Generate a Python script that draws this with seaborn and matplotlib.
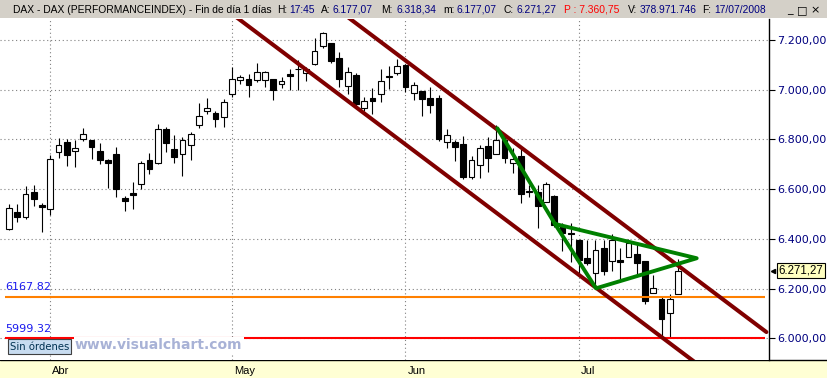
import numpy as np
import pandas as pd
import matplotlib
matplotlib.use("Agg")
import matplotlib.pyplot as plt
import matplotlib.transforms as mtrans
from matplotlib.patches import Rectangle
from matplotlib.lines import Line2D
import seaborn as sns

# ---------------- data ----------------
dates = pd.bdate_range("2008-03-25", "2008-07-17")
dates = dates[dates != pd.Timestamp("2008-05-01")]

opens = [6441, 6507, 6487, 6587, 6535, 6519, 6748, 6788, 6752, 6801,
         6797, 6752, 6716, 6741, 6563, 6583, 6622, 6716, 6704, 6841,
         6760, 6740, 6776, 6857, 6913, 6905, 6889, 6983, 7038, 7042,
         7039, 7038, 7042, 7022, 7063, 7084, 7068, 7102, 7175, 7187,
         7126, 7013, 7059, 6925, 6966, 6981, 7055, 7066, 7099, 6986,
         6995, 6966, 6967, 6788, 6789, 6781, 6647, 6698, 6772, 6743,
         6798, 6704, 6733, 6593, 6587, 6550, 6571, 6452, 6422, 6395,
         6322, 6261, 6362, 6312, 6315, 6328, 6339, 6311, 6183, 6158,
         6100, 6177.07]
highs = [6540, 6540, 6613, 6617, 6543, 6736, 6805, 6801, 6798, 6845,
         6798, 6784, 6720, 6768, 6572, 6629, 6713, 6744, 6862, 6850,
         6818, 6811, 6830, 6945, 6966, 6914, 6961, 7090, 7058, 7063,
         7106, 7077, 7043, 7050, 7082, 7120, 7093, 7207, 7232, 7188,
         7153, 7091, 7067, 6969, 7006, 7083, 7096, 7122, 7103, 7032,
         6996, 7010, 6978, 6842, 6798, 6814, 6733, 6778, 6811, 6858,
         6809, 6764, 6764, 6617, 6617, 6630, 6578, 6464, 6465, 6396,
         6395, 6395, 6395, 6418, 6362, 6398, 6389, 6312, 6255, 6167.82,
         6178, 6318.34]
lows = [6437, 6469, 6479, 6532, 6429, 6496, 6727, 6694, 6690, 6795,
        6723, 6702, 6606, 6570, 6513, 6521, 6599, 6662, 6702, 6748,
        6704, 6653, 6717, 6847, 6904, 6851, 6850, 6970, 7022, 6970,
        7032, 7012, 6959, 7006, 6999, 6999, 7036, 7100, 7167, 7106,
        7012, 6981, 6926, 6916, 6902, 6952, 7004, 7061, 6990, 6960,
        6896, 6905, 6795, 6764, 6714, 6639, 6641, 6646, 6670, 6740,
        6704, 6664, 6546, 6570, 6443, 6548, 6448, 6350, 6308, 6261,
        6295, 6201, 6255, 6272, 6225, 6327, 6251, 6138, 6182, 6006,
        5999.32, 6177.07]
closes = [6523, 6489, 6579, 6559, 6529, 6720, 6776, 6739, 6764, 6821,
          6771, 6718, 6704, 6602, 6554, 6578, 6704, 6680, 6841, 6784,
          6728, 6797, 6821, 6896, 6925, 6883, 6949, 7042, 7050, 7018,
          7073, 7070, 7000, 7034, 7056, 7082, 7082, 7155, 7227, 7117,
          7042, 7070, 6943, 6954, 6956, 7034, 7053, 7095, 7010, 7017,
          6964, 6940, 6802, 6817, 6771, 6650, 6716, 6764, 6727, 6798,
          6727, 6720, 6579, 6589, 6533, 6621, 6456, 6422, 6418, 6315,
          6304, 6355, 6272, 6395, 6306, 6385, 6304, 6151, 6201, 6078,
          6158, 6271.27]

month_labels = ["Abr", "May", "Jun", "Jul"]
y_ticks = [6000, 6200, 6400, 6600, 6800, 7000, 7200]

support_levels = [6167.82, 5999.32]
support_labels = ["6167.82", "5999.32"]
support_colors = ["#ff8000", "#ff0000"]

channel_upper_idx = [38.3, 91.7]
channel_upper_val = [7360, 6025]
channel_lower_idx = [24.6, 85.0]
channel_lower_val = [7365, 5855]
triangle_idx = [59.12, 66.1, 71.07, 83.26, 66.1]
triangle_val = [6845, 6460, 6201, 6322, 6460]

last_price = 6271.27

header_parts = [
    ("DAX - DAX (PERFORMANCEINDEX) - Fin de día 1 días", 13, "black"),
    ("H:", 277, "black"), ("17:45", 289, "#000080"),
    ("A:", 321, "black"), ("6.177,07", 333, "#000080"),
    ("M:", 381, "black"), ("6.318,34", 397, "#000080"),
    ("m:", 443, "black"), ("6.177,07", 457, "#000080"),
    ("C:", 504, "black"), ("6.271,27", 517, "#000080"),
    ("P : 7.360,75", 564, "#ff0000"),
    ("V:", 628, "black"), ("378.971.746", 640, "#000080"),
    ("F:", 702, "black"), ("17/07/2008", 714, "#000080"),
]

# ---------------- figure ----------------
sns.set_style("white")
plt.rcParams["font.family"] = ["DejaVu Sans"]

W, H = 828, 378
fig = plt.figure(figsize=(W / 100, H / 100), dpi=100)
fig.patch.set_facecolor("white")

def fy(py):
    return 1 - py / H

# header strip and bottom strip (below the axes in drawing order)
fig.patches.append(Rectangle((0, fy(18)), 1, 18 / H, transform=fig.transFigure,
                             facecolor="#d4d0c8", edgecolor="none", zorder=-2))
fig.patches.append(Rectangle((0, 0), 1, 18 / H, transform=fig.transFigure,
                             facecolor="#ffffd4", edgecolor="none", zorder=-2))
fig.lines.append(Line2D([0, 1], [fy(360), fy(360)], transform=fig.transFigure,
                        color="black", lw=1.0, zorder=-1))

for txt, px, col in header_parts:
    fig.text(px / W, fy(10), txt, color=col, fontsize=7.4,
             family=["Liberation Sans", "DejaVu Sans"], ha="left", va="center")
for txt, px in [("_", 790), ("□", 802), ("×", 815)]:
    fig.text(px / W, fy(10), txt, color="black", fontsize=8, ha="center", va="center")

ax = fig.add_axes([0, fy(360), 769.3 / W, (360 - 19) / H])
ax.set_facecolor("white")

df = pd.DataFrame({"date": dates, "open": opens, "high": highs,
                   "low": lows, "close": closes})
df["x"] = np.arange(len(df))
up = df["close"] >= df["open"]

ax.vlines(df["x"], df["low"], df["high"], color="black", lw=0.8, zorder=2)
ax.bar(df["x"], df["close"] - df["open"], bottom=df["open"], width=0.7,
       color=np.where(up, "white", "black"), edgecolor="black",
       linewidth=0.8, zorder=3)

# support lines
for lvl, lab, col in zip(support_levels, support_labels, support_colors):
    ax.hlines(lvl, -0.48, 91.5, color=col, lw=1.5, zorder=4)
    ax.annotate(lab, xy=(0.0065, lvl), xycoords=("axes fraction", "data"),
                xytext=(0, 3), textcoords="offset points", color="#1a1aee",
                fontsize=8, ha="left", va="bottom")

# channel and triangle
sns.lineplot(x=channel_upper_idx, y=channel_upper_val, ax=ax, color="#800000",
             lw=2.9, sort=False, estimator=None, zorder=5)
sns.lineplot(x=channel_lower_idx, y=channel_lower_val, ax=ax, color="#800000",
             lw=2.9, sort=False, estimator=None, zorder=5)
sns.lineplot(x=triangle_idx, y=triangle_val, ax=ax, color="#008000",
             lw=2.8, sort=False, estimator=None, zorder=6)

# axes limits
ax.set_xlim(-1.09, 92.05)
ax.set_ylim(5912.6, 7284.5)

# month ticks
month_pos = [int(np.argmax(df["date"].dt.month.values == m)) for m in [4, 5, 6, 7]]
ax.set_xticks(month_pos)
ax.set_xticklabels([""] * len(month_pos))
ax.tick_params(axis="x", direction="out", length=6.5, width=0.8, color="black")
trans = mtrans.offset_copy(ax.get_xaxis_transform(), fig=fig, x=2, y=-11, units="dots")
for p, lab in zip(month_pos, month_labels):
    ax.text(p, 0, lab, transform=trans, ha="left", va="center", fontsize=8,
            color="black", family=["Liberation Sans", "DejaVu Sans"])

# y axis on right
ax.yaxis.tick_right()
ax.set_yticks(y_ticks)
ax.set_yticklabels([f"{v:,.2f}".replace(",", "X").replace(".", ",").replace("X", ".")
                    for v in y_ticks], color="#000080", fontsize=8)
ax.tick_params(axis="y", direction="out", length=4, width=0.8, pad=1.5, color="black")

ax.grid(True, linestyle=(0, (1, 2.5)), color="#808080", lw=0.8, zorder=1)
ax.set_axisbelow(True)
for s in ["left", "top", "bottom"]:
    ax.spines[s].set_visible(False)
ax.spines["right"].set_color("black")
ax.spines["right"].set_linewidth(1.0)

# last price tag
ax.text(778.5 / 769.3, last_price, "6.271,27", transform=ax.get_yaxis_transform(),
        ha="left", va="center", fontsize=8.3, color="black",
        family=["Liberation Sans", "DejaVu Sans"],
        bbox=dict(boxstyle="square,pad=0.12", fc="#ffffc0", ec="black", lw=0.8),
        clip_on=False)
ax.plot([773 / 769.3], [last_price], transform=ax.get_yaxis_transform(),
        marker="<", markersize=3, color="black", clip_on=False, zorder=9)

# watermark + label
ax.text(75 / 769.3, (360 - 345) / 341, "www.visualchart.com", transform=ax.transAxes,
        ha="left", va="center", fontsize=10, fontweight="bold", color="#a8b2d6",
        bbox=dict(boxstyle="square,pad=0.1", fc="white", ec="none"), zorder=7)
ax.text(10 / 769.3, (360 - 346.5) / 341, "Sin órdenes", transform=ax.transAxes,
        ha="left", va="center", fontsize=7.3, color="#003050",
        bbox=dict(boxstyle="square,pad=0.2", fc="#c8dcf0", ec="#404040", lw=0.8),
        zorder=8)

fig.savefig("out.png", dpi=100)
